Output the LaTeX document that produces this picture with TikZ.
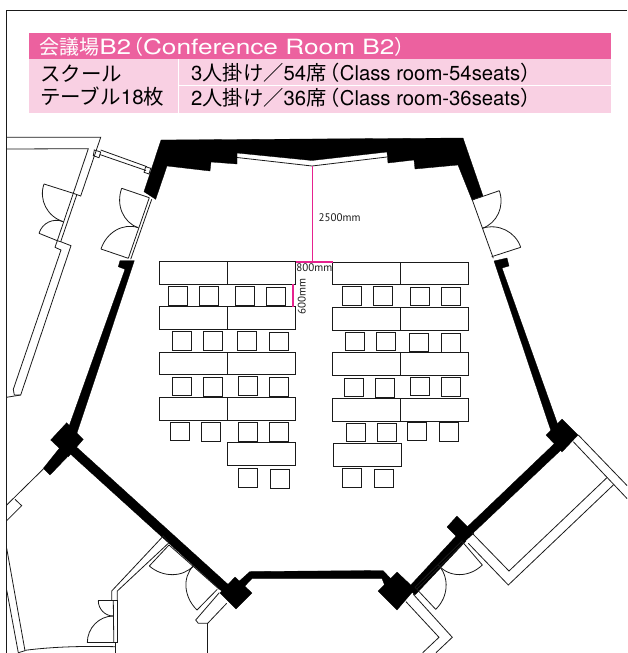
\documentclass[tikz,border=0pt]{standalone}
\usepackage{fontspec}
\usetikzlibrary{calc}
\setmainfont{TeX Gyre Heros}
\newfontfamily\jpfont{Noto Sans CJK JP}
\newfontfamily\dimfont{PT Sans}
\newcommand{\J}[1]{{\jpfont #1}}
\newcommand{\Lp}{\kern-7pt\J{（}}
\newcommand{\Rp}{\J{）}}
\definecolor{titlepink}{HTML}{EC619F}
\definecolor{rowpink}{HTML}{F9D0E3}
\definecolor{dimpink}{HTML}{E6228F}
\definecolor{ink}{HTML}{1A1A1A}
\newcommand{\doorarc}[6]{\draw[thinline] (#1,#2) .. controls ($(#1,#2)+.55*(#3,#4)-.55*(#5,#6)$) and ($(#3,#4)+.55*(#1,#2)-.55*(#5,#6)$) .. (#3,#4);}
\newcommand{\seat}[2]{\draw[furn] ({150+#1/3},{250+#2/3}) rectangle ++(19.3,18.8);}
\tikzset{
  thinline/.style={draw=ink,line width=0.8pt,line join=miter},
  wall/.style={fill=black,draw=black,line width=0.3pt},
  furn/.style={draw=ink,line width=1pt,fill=white},
  dimline/.style={draw=dimpink,line width=1.8pt},
  headtext/.style={anchor=west,inner sep=0pt,text=black},
  dimtext/.style={inner sep=0pt,text=ink,font=\dimfont\fontsize{11}{12}\selectfont},
}
\begin{document}
\begin{tikzpicture}[x=1pt,y=-1pt]
\useasboundingbox (0,0) rectangle (627,653);
% frame
\draw[draw=ink,line width=0.9pt] (6.5,653) -- (6.5,10.5) -- (627,10.5);
% header
\fill[titlepink] (29,33) rectangle (611,59);
\fill[rowpink] (29,59) rectangle (611,113);
\draw[white,line width=0.9pt] (178.5,59) -- (178.5,113);
\draw[white,line width=0.9pt] (178.5,85.5) -- (611,85.5);
\node[headtext,text=white] (title) at (39.5,46.5) {\fontsize{20}{22}\selectfont\J{会議場}\scalebox{1.22}[1]{\fontsize{21}{22}\selectfont B2}\kern-8pt\J{（}\scalebox{1.25}[1]{\fontsize{21}{22}\selectfont Conference Room B2}\Rp};
\node[headtext] (kind1) at (40,74) {\fontsize{20.5}{22}\selectfont\J{スクール}};
\node[headtext] (kind2) at (40,96.5) {\fontsize{20.5}{22}\selectfont\J{テーブル}18\J{枚}};
\node[headtext] (row1) at (191,73) {\fontsize{20.3}{22}\selectfont 3\J{人掛け／}54\J{席}\Lp Class room-54seats\Rp};
\node[headtext] (row2) at (191,98) {\fontsize{20.3}{22}\selectfont 2\J{人掛け／}36\J{席}\Lp Class room-36seats\Rp};
% black walls
\fill[wall] (161,140) -- (463,138) -- (483,196) -- (472,200) -- (458,165) -- (415,169) -- (414,160) -- (388,163) -- (387,152) -- (312,160.5) -- (237,153) -- (237,164) -- (211,162) -- (210,171) -- (167,166) -- (155.7,199.3) -- (144,191.7) -- cycle;
\draw[thinline] (237,157.5) -- (312,166) -- (387,157);
% left lower wall + diamond + stub
\fill[wall] (120,260.7) -- (134.3,260.7) -- (76,436) -- (67,432) -- (125,269.3) -- (118.3,266.7) -- cycle;
\fill[wall] (66.7,422.7) -- (83.3,439.3) -- (68.3,456.7) -- (50.7,440) -- cycle;
\fill[wall] (43.3,468.3) -- (50,475) -- (73,451) -- (62,445) -- cycle;
\fill[wall] (72,443) -- (232,588) -- (226,595) -- (66,450) -- cycle;
\fill[wall] (235,577) -- (252,593) -- (236,609) -- (220,593) -- cycle;
\fill[wall] (236,584) -- (250,571.5) -- (383,570.5) -- (392,580) -- (385,586) -- (382,578.5) -- (252,578.5) -- (243,588) -- cycle;
\fill[wall] (397,572) -- (415,589) -- (397,610) -- (378,591) -- cycle;
\fill[wall] (408,588) -- (458,534) -- (466,541) -- (415,595) -- cycle;
\fill[wall] (457,516) -- (474,533) -- (463,543) -- (447,527) -- cycle;
\fill[wall] (465,529) -- (555,443) -- (561,450) -- (471,535) -- cycle;
\fill[wall] (562,419) -- (578,435) -- (562,452) -- (546,435) -- cycle;
\fill[wall] (494,261) -- (507,258) -- (509,266) -- (502,268) -- (559,428) -- (551,431) -- cycle;
% top-left annex
\draw[thinline] (6.5,137.3) -- (100.7,137.3) -- (80.7,196) -- (73.3,193.3) -- (88.3,148.7) -- (6.5,149);
\draw[thinline] (73.3,193.3) -- (57.3,240.7) -- (55,247.3) -- (61,250) -- (13.3,389.3) -- (14.3,395) -- (20.7,395) -- (71,245.7) -- (60.7,241.7) -- (76.7,195);
\draw[thinline] (57.3,240.7) -- (60.7,241.7);
\draw[thinline] (20.7,395) -- (6.5,397.3);
\draw[thinline] (44,184) -- (73.3,193.3);
\doorarc{44}{184}{63.3}{221.7}{73.3}{193.3}
\draw[thinline] (39,233.3) -- (57.3,240.7);
\doorarc{39}{233.3}{63.3}{221.7}{57.3}{240.7}
% connecting strip
\draw[thinline] (94.3,150) -- (100.7,152) -- (99,157.7) -- (93.3,155.7) -- cycle;
\draw[thinline] (145.7,166.7) -- (150.7,168.3) -- (149,174) -- (144,172.3) -- cycle;
\draw[thinline] (100.7,150) -- (147,166.7);
\draw[thinline] (99.7,154.5) -- (146,170.5);
% left doors
\draw[thinline] (149.3,197.7) -- (128.3,258.3);
\draw[thinline] (151.7,199.3) -- (130.7,259.3);
\draw[thinline] (121.7,188.3) -- (149.3,197.7);
\doorarc{121.7}{188.3}{138.3}{227.7}{149.3}{197.7}
\draw[thinline] (101,249) -- (128.3,258.3);
\doorarc{101}{249}{138.3}{227.7}{128.3}{258.3}
% right doors
\draw[thinline] (472.3,200) -- (493.3,258.3);
\draw[thinline] (472.3,200) -- (499.3,190.7);
\doorarc{499.3}{190.7}{482.3}{228.3}{472.3}{200}
\draw[thinline] (491.7,256.7) -- (520.7,247.3);
\doorarc{520.7}{247.3}{482.3}{228.3}{491.7}{256.7}
% lower left
\draw[thinline] (43.3,469) -- (6.7,505);
\draw[thinline] (15,499.3) -- (21.7,505.7) -- (6.7,520.7);
\draw[thinline] (6.7,548.3) -- (25,650.7) -- (18.3,652.7) -- (6.7,590);
\draw[thinline] (25,650.3) .. controls (55,646.5) and (85,646) .. (115.7,646.7);
\draw[thinline] (115.7,642.7) -- (115.7,653);
% bottom-left door group
\draw[thinline] (169,542.7) -- (163.3,536) -- (111.7,591) -- (111.7,600.7);
\draw[thinline] (169,542.7) -- (117.3,591) -- (117.3,600.7);
\draw[thinline] (98.3,600.7) -- (117.3,600.7) -- (117.3,642.7) -- (87.3,642.7);
\draw[thinline] (113.3,600.7) -- (113.8,642.7);
\doorarc{98.3}{600.7}{113.3}{616}{113.3}{600.7}
\doorarc{87.3}{642.7}{113.3}{616}{113.3}{642.7}
\draw[thinline] (169,545) -- (219.3,589.3);
\draw[thinline] (169,545) -- (149.3,566);
\doorarc{149.3}{566}{193.3}{566}{169}{545}
\draw[thinline] (217.3,589.3) -- (197,610);
\doorarc{197}{610}{193.3}{566}{217.3}{589.3}
\draw[thinline] (219.3,592.7) -- (195.7,620) -- (198.3,623.3) -- (207.7,623.3) -- (226.7,603.3);
\draw[thinline] (207.7,623.3) -- (207.7,653);
% lower right door group
\draw[thinline] (415,587.3) -- (462.3,540.7);
\draw[thinline] (417,589) -- (464,542.5);
\draw[thinline] (462.3,541.7) -- (482.3,565);
\doorarc{482.3}{565}{438.3}{565}{462.3}{541.7}
\draw[thinline] (415,587.3) -- (435.7,609.3);
\doorarc{435.7}{609.3}{438.3}{565}{415}{587.3}
\draw[thinline] (413.3,594.3) -- (452.3,637.3) -- (436,652.7);
\draw[thinline] (406,601.7) -- (439,637.3) -- (422.7,652.7);
% right balcony
\draw[thinline] (471.7,532.7) -- (509,571) -- (607.3,477.3);
\draw[thinline] (468.3,543.3) -- (508.3,585) -- (613.3,485);
\draw[thinline] (578.3,435) -- (627,485.5);
\draw[thinline] (573.3,441.7) -- (627,498.5);
% tables
\foreach \xa/\xb/\ya/\yb in {159.3/227.3/261.3/284, 227.3/295.3/261.3/284,
  159.3/227.3/306.7/329.3, 227.3/295.3/306.7/329.3,
  159.3/227.3/352/374.7, 227.3/295.3/352/374.7,
  159.3/227.3/397.3/420, 227.3/295.3/397.3/420,
  227.3/295.7/442.7/465.7,
  332.7/400.7/262.3/284.7, 400.7/468.7/262.3/284.7,
  332.7/400.7/307.7/330, 400.7/468.7/307.7/330,
  332.7/400.7/352.7/375.3, 400.7/468.7/352.7/375.3,
  332.7/400.7/398.3/421, 400.7/468.7/398.3/421,
  333.3/401.3/443.3/466}
  {\draw[furn] (\xa,\ya) rectangle (\xb,\yb);}
% seats
\foreach \a/\b in {55/110,149/110,255/110,350/111,
  66/245,160/245,263/245,357/246,
  67/381,161/382,265/380,359/382,
  61/516,155/518,264/517,358/518,
  266/656,360/658,
  577/109,671/109,781/111,875/111,
  586/246,680/246,778/249,873/250,
  583/384,677/385,781/381,875/382,
  588/519,682/519,773/516,867/517,
  577/655,672/657}
  {\seat{\a}{\b}}
% dimensions
\draw[dimline] (312.5,166) -- (312.5,262.3);
\draw[dimline] (295.5,262.3) -- (333,262.3);
\draw[dimline] (293.3,284) -- (293.3,306.7);
\node[dimtext,anchor=west] (d2500) at (318.5,218) {2500mm};
\node[dimtext] (d800) at (314.3,268) {800mm};
\node[dimtext,rotate=90] (d600) at (301.7,296.5) {600mm};
\end{tikzpicture}
\end{document}
